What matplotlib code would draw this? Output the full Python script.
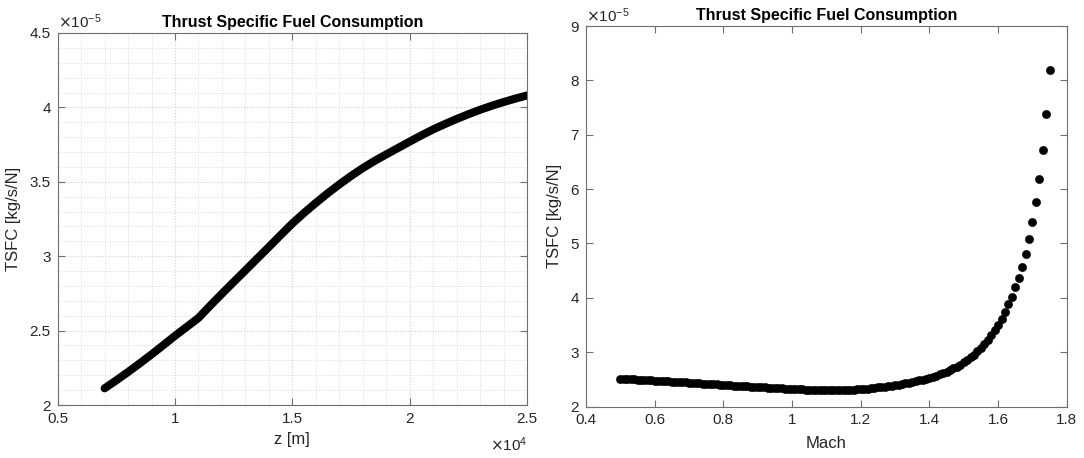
import matplotlib
matplotlib.use("Agg")
import matplotlib.pyplot as plt
from matplotlib.ticker import MultipleLocator

plt.rcParams['font.family'] = ['Liberation Sans', 'DejaVu Sans']

# Altitude sweep: z in units of 1e4 m, TSFC in units of 1e-5 kg/s/N
altitude_e4 = [0.70, 0.75, 0.80, 0.85, 0.90, 0.95, 1.00, 1.05, 1.10, 1.15,
               1.20, 1.25, 1.30, 1.35, 1.40, 1.45, 1.50, 1.55, 1.60, 1.65,
               1.70, 1.75, 1.80, 1.85, 1.90, 1.95, 2.00, 2.05, 2.10, 2.15,
               2.20, 2.25, 2.30, 2.35, 2.40, 2.45, 2.50]
tsfc_alt_e5 = [2.112, 2.166, 2.222, 2.280, 2.340, 2.402, 2.465, 2.525, 2.585, 2.668,
               2.748, 2.827, 2.905, 2.984, 3.062, 3.142, 3.220, 3.291, 3.358, 3.422,
               3.482, 3.539, 3.592, 3.640, 3.684, 3.727, 3.770, 3.812, 3.852, 3.888,
               3.922, 3.954, 3.984, 4.011, 4.036, 4.059, 4.080]

# Mach sweep, TSFC in units of 1e-5 kg/s/N
mach = [0.50, 0.51, 0.52, 0.53, 0.54, 0.55, 0.56, 0.57, 0.58, 0.59,
        0.60, 0.61, 0.62, 0.63, 0.64, 0.65, 0.66, 0.67, 0.68, 0.69,
        0.70, 0.71, 0.72, 0.73, 0.74, 0.75, 0.76, 0.77, 0.78, 0.79,
        0.80, 0.81, 0.82, 0.83, 0.84, 0.85, 0.86, 0.87, 0.88, 0.89,
        0.90, 0.91, 0.92, 0.93, 0.94, 0.95, 0.96, 0.97, 0.98, 0.99,
        1.00, 1.01, 1.02, 1.03, 1.04, 1.05, 1.06, 1.07, 1.08, 1.09,
        1.10, 1.11, 1.12, 1.13, 1.14, 1.15, 1.16, 1.17, 1.18, 1.19,
        1.20, 1.21, 1.22, 1.23, 1.24, 1.25, 1.26, 1.27, 1.28, 1.29,
        1.30, 1.31, 1.32, 1.33, 1.34, 1.35, 1.36, 1.37, 1.38, 1.39,
        1.40, 1.41, 1.42, 1.43, 1.44, 1.45, 1.46, 1.47, 1.48, 1.49,
        1.50, 1.51, 1.52, 1.53, 1.54, 1.55, 1.56, 1.57, 1.58, 1.59,
        1.60, 1.61, 1.62, 1.63, 1.64, 1.65, 1.66, 1.67, 1.68, 1.69,
        1.70, 1.71, 1.72, 1.73, 1.74, 1.75]
tsfc_mach_e5 = [2.510, 2.507, 2.504, 2.501, 2.498, 2.494, 2.491, 2.488, 2.484, 2.481,
                2.477, 2.473, 2.470, 2.466, 2.462, 2.458, 2.454, 2.450, 2.446, 2.442,
                2.438, 2.434, 2.430, 2.426, 2.422, 2.418, 2.414, 2.410, 2.406, 2.402,
                2.398, 2.394, 2.390, 2.386, 2.382, 2.378, 2.374, 2.370, 2.366, 2.362,
                2.358, 2.354, 2.350, 2.347, 2.343, 2.340, 2.336, 2.333, 2.330, 2.327,
                2.324, 2.321, 2.318, 2.316, 2.313, 2.311, 2.309, 2.307, 2.306, 2.305,
                2.304, 2.303, 2.303, 2.303, 2.304, 2.305, 2.307, 2.310, 2.313, 2.317,
                2.321, 2.326, 2.331, 2.337, 2.343, 2.350, 2.357, 2.365, 2.374, 2.383,
                2.393, 2.404, 2.415, 2.427, 2.439, 2.452, 2.466, 2.480, 2.495, 2.512,
                2.530, 2.549, 2.569, 2.591, 2.615, 2.641, 2.669, 2.700, 2.733, 2.770,
                2.810, 2.855, 2.903, 2.956, 3.014, 3.078, 3.148, 3.225, 3.310, 3.400,
                3.500, 3.615, 3.745, 3.880, 4.020, 4.190, 4.370, 4.570, 4.800, 5.076,
                5.390, 5.757, 6.190, 6.720, 7.375, 8.200]

TEXT = '#262626'
SPINE = '#6e6e6e'

fig = plt.figure(figsize=(10.84, 4.58), dpi=100)
ax1 = fig.add_axes([0.0532, 0.1157, 0.4330, 0.8123])
ax2 = fig.add_axes([0.5406, 0.1124, 0.4435, 0.8308])


def style_axes(ax):
    for s in ax.spines.values():
        s.set_color(SPINE)
        s.set_linewidth(0.8)
    ax.tick_params(which='major', direction='in', length=5, width=0.8,
                   color=SPINE, labelcolor=TEXT, labelsize=11,
                   top=True, right=True, pad=5)
    ax.tick_params(which='minor', length=0, top=True, right=True)
    ax.set_title('Thrust Specific Fuel Consumption', fontsize=11.5,
                 fontweight='bold', color='black', pad=4)
    ax.set_ylabel('TSFC [kg/s/N]', fontsize=12, color=TEXT, labelpad=6)


# Left: TSFC versus altitude
ax1.plot(altitude_e4, tsfc_alt_e5, color='black', lw=5.8,
         solid_capstyle='round', solid_joinstyle='round')
ax1.set_xlim(0.5, 2.5)
ax1.set_ylim(2.0, 4.5)
ax1.xaxis.set_minor_locator(MultipleLocator(0.1))
ax1.yaxis.set_minor_locator(MultipleLocator(0.1))
ax1.set_xticks([0.5, 1.0, 1.5, 2.0, 2.5])
ax1.set_xticklabels(['0.5', '1', '1.5', '2', '2.5'])
ax1.set_yticks([2.0, 2.5, 3.0, 3.5, 4.0, 4.5])
ax1.set_yticklabels(['2', '2.5', '3', '3.5', '4', '4.5'])
ax1.grid(which='major', color='#d0d0d0', linestyle=':', linewidth=0.8)
ax1.grid(which='minor', color='#dcdcdc', linestyle=':', linewidth=0.7)
ax1.set_axisbelow(True)
style_axes(ax1)
ax1.set_xlabel('z [m]', fontsize=12, color=TEXT, labelpad=4)
ax1.text(0.0, 1.005, r'$\times\mathregular{10^{-5}}$', transform=ax1.transAxes,
         ha='left', va='bottom', fontsize=11, color=TEXT)
ax1.text(1.0, -0.108, r'$\times\mathregular{10^{4}}$', transform=ax1.transAxes,
         ha='right', va='center', fontsize=11, color=TEXT)

# Right: TSFC versus Mach number
ax2.plot(mach, tsfc_mach_e5, linestyle='none', marker='o', markersize=5.9,
         markerfacecolor='black', markeredgecolor='black', markeredgewidth=0.4)
ax2.set_xlim(0.4, 1.8)
ax2.set_ylim(2.0, 9.0)
ax2.set_xticks([0.4, 0.6, 0.8, 1.0, 1.2, 1.4, 1.6, 1.8])
ax2.set_xticklabels(['0.4', '0.6', '0.8', '1', '1.2', '1.4', '1.6', '1.8'])
ax2.set_yticks([2, 3, 4, 5, 6, 7, 8, 9])
style_axes(ax2)
ax2.set_xlabel('Mach', fontsize=12, color=TEXT, labelpad=6)
ax2.text(0.0, 1.003, r'$\times\mathregular{10^{-5}}$', transform=ax2.transAxes,
         ha='left', va='bottom', fontsize=11, color=TEXT)

fig.savefig('out.png', dpi=100)
